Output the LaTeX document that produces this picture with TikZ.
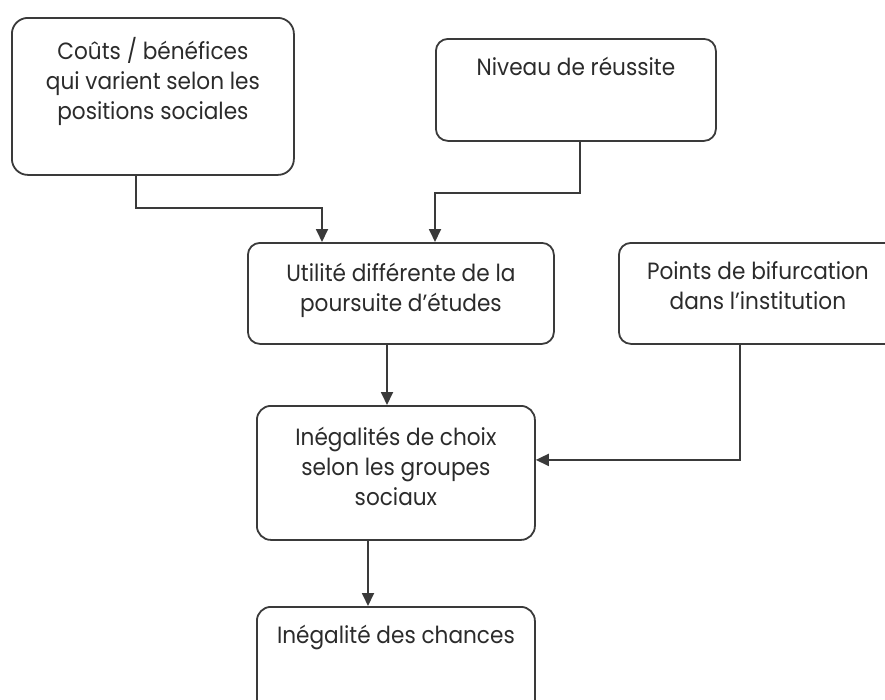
\documentclass[tikz,border=0pt]{standalone}
\usepackage{fontspec}
\setmainfont[FakeStretch=0.92]{Poppins}
\usetikzlibrary{arrows.meta}
\definecolor{ink}{HTML}{2B2B2B}
\definecolor{edge}{HTML}{3A3A3A}
\begin{document}
\begin{tikzpicture}[x=1pt,y=-1pt,
  box/.style={draw=edge, line width=1.8pt, rounded corners=12pt, anchor=north west, inner sep=0pt},
  lbl/.style={anchor=base, inner sep=0pt, text=ink, font=\fontsize{23.5}{30}\selectfont},
  arr/.style={draw=edge, line width=1.8pt, -{Triangle[width=12pt,length=13pt]}}]
\useasboundingbox (0,0) rectangle (885,699);
\begin{scope}
\clip (0,0) rectangle (885,699);
\node[box, minimum width=282pt, minimum height=157pt, rounded corners=16pt] (b1) at (11,17) {};
\node[box, minimum width=280pt, minimum height=102pt] (b2) at (435,38) {};
\node[box, minimum width=306pt, minimum height=101pt] (b3) at (247,242) {};
\node[box, minimum width=278pt, minimum height=101pt] (b4) at (618,242) {};
\node[box, minimum width=278pt, minimum height=134pt, rounded corners=14pt] (b5) at (256,405) {};
\node[box, minimum width=278pt, minimum height=140pt, rounded corners=14pt] (b6) at (256,606) {};

\node[lbl] (t1) at ([yshift=-42pt]b1.north) {\parbox[t]{300pt}{\centering Coûts / bénéfices\\qui varient selon les\\positions sociales}};
\node[lbl] (t2) at ([yshift=-37pt]b2.north) {\parbox[t]{300pt}{\centering Niveau de réussite}};
\node[lbl] (t3) at ([yshift=-39pt]b3.north) {\parbox[t]{300pt}{\centering Utilité différente de la\\poursuite d’études}};
\node[lbl] (t4) at ([yshift=-37pt]b4.north) {\parbox[t]{300pt}{\centering Points de bifurcation\\dans l’institution}};
\node[lbl] (t5) at ([yshift=-40pt]b5.north) {\parbox[t]{300pt}{\centering Inégalités de choix\\selon les groupes\\sociaux}};
\node[lbl] (t6) at ([yshift=-37pt]b6.north) {\parbox[t]{300pt}{\centering Inégalité des chances}};

\draw[arr] ([xshift=125pt]b1.south west) -- ++(0,32) -| ([xshift=75pt]b3.north west);
\draw[arr] ([xshift=145pt]b2.south west) -- ++(0,51) -| ([xshift=188pt]b3.north west);
\coordinate (c35) at ([xshift=140pt]b3.south west);
\draw[arr] (c35) -- (c35 |- b5.north);
\coordinate (c4) at ([xshift=122pt]b4.south west);
\draw[arr] (c4) |- ([yshift=13pt]b5.east);
\coordinate (c56) at ([xshift=112pt]b5.south west);
\draw[arr] (c56) -- (c56 |- b6.north);
\end{scope}
\end{tikzpicture}
\end{document}
